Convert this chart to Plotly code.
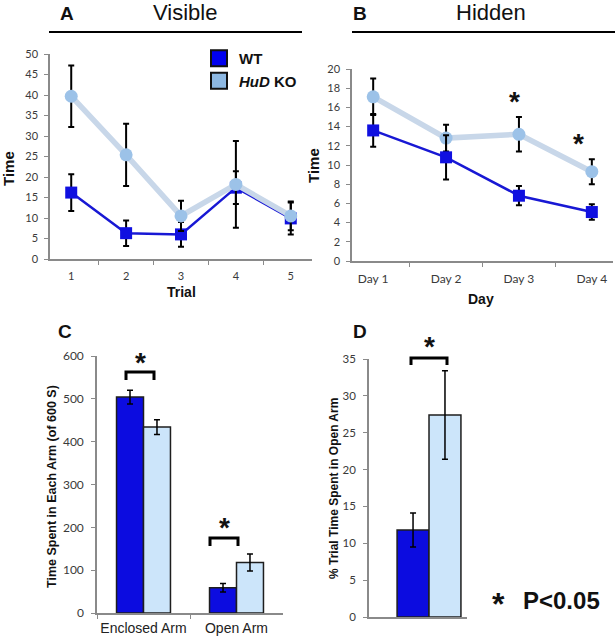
import plotly.graph_objects as go

# ---------------- data ----------------
trials = ["1", "2", "3", "4", "5"]
a_wt = [16.2, 6.3, 6.0, 17.4, 9.9]
a_wt_err = [4.5, 3.1, 3.0, 4.0, 3.9]
a_ko = [39.7, 25.4, 10.5, 18.2, 10.5]
a_ko_err = [7.5, 7.6, 3.7, 10.6, 3.5]

days = ["Day 1", "Day 2", "Day 3", "Day 4"]
b_wt = [13.6, 10.8, 6.8, 5.1]
b_wt_err = [1.7, 2.3, 1.0, 0.8]
b_ko = [17.1, 12.8, 13.2, 9.3]
b_ko_err = [1.9, 1.4, 1.8, 1.3]

arms = ["Enclosed Arm", "Open Arm"]
c_wt = [504, 59]
c_wt_err = [16, 10]
c_ko = [434, 118]
c_ko_err = [17, 20]

d_cat = ["Open Arm"]
d_wt = [11.8]
d_wt_err = [2.3]
d_ko = [27.4]
d_ko_err = [6.0]

group_names = ["WT", "<i>HuD</i> KO"]

# ---------------- style ----------------
W, H = 616, 639
WT_LINE = "#1818d4"
WT_MARK = "#1010e0"
KO_LINE = "#c8d7e9"
KO_MARK = "#9cc2e8"
WT_BAR = "#0c0ce0"
KO_BAR = "#cce5fa"
AX = "#8a8a8a"
TICKF = dict(family="Lato, Open Sans, sans-serif", size=11, color="#3a3a3a")
ARIAL = "Liberation Sans, Arial, sans-serif"


def px(x):
    return x / W


def py(y):
    return 1 - y / H


def err(arr, th=2):
    return dict(type="data", array=arr, color="black", thickness=th, width=3)


fig = go.Figure()

# Panel A
fig.add_trace(go.Scatter(x=trials, y=a_wt, error_y=err(a_wt_err), mode="lines+markers",
                         line=dict(color=WT_LINE, width=2.5),
                         marker=dict(symbol="square", size=12, color=WT_MARK),
                         xaxis="x", yaxis="y", showlegend=False))
fig.add_trace(go.Scatter(x=trials, y=a_ko, error_y=err(a_ko_err), mode="lines+markers",
                         line=dict(color=KO_LINE, width=5.5),
                         marker=dict(symbol="circle", size=13, color=KO_MARK),
                         xaxis="x", yaxis="y", showlegend=False))
# Panel B
fig.add_trace(go.Scatter(x=days, y=b_ko, error_y=err(b_ko_err), mode="lines+markers",
                         line=dict(color=KO_LINE, width=5.5),
                         marker=dict(symbol="circle", size=13, color=KO_MARK),
                         xaxis="x2", yaxis="y2", showlegend=False))
fig.add_trace(go.Scatter(x=days, y=b_wt, error_y=err(b_wt_err), mode="lines+markers",
                         line=dict(color=WT_LINE, width=2.5),
                         marker=dict(symbol="square", size=12, color=WT_MARK),
                         xaxis="x2", yaxis="y2", showlegend=False))
# Panel C
bar_line = dict(color="#1e1e1e", width=1.5)
fig.add_trace(go.Bar(x=arms, y=c_wt, error_y=err(c_wt_err, 1.5),
                     marker=dict(color=WT_BAR, line=bar_line), xaxis="x3", yaxis="y3", showlegend=False))
fig.add_trace(go.Bar(x=arms, y=c_ko, error_y=err(c_ko_err, 1.5),
                     marker=dict(color=KO_BAR, line=bar_line), xaxis="x3", yaxis="y3", showlegend=False))
# Panel D
fig.add_trace(go.Bar(x=d_cat, y=d_wt, error_y=err(d_wt_err, 1.5),
                     marker=dict(color=WT_BAR, line=bar_line), xaxis="x4", yaxis="y4", showlegend=False))
fig.add_trace(go.Bar(x=d_cat, y=d_ko, error_y=err(d_ko_err, 1.5),
                     marker=dict(color=KO_BAR, line=bar_line), xaxis="x4", yaxis="y4", showlegend=False))

# Legend entries
fig.add_trace(go.Scatter(x=[None], y=[None], mode="markers", name=group_names[0],
                         marker=dict(symbol="square", size=16, color="#0000ee", line=dict(color="#111", width=2)),
                         xaxis="x", yaxis="y"))
fig.add_trace(go.Scatter(x=[None], y=[None], mode="markers", name=group_names[1],
                         marker=dict(symbol="square", size=16, color="#8db8e2", line=dict(color="#111", width=2)),
                         xaxis="x", yaxis="y"))


def xax(domain, **kw):
    d = dict(domain=domain, showline=True, linecolor=AX, linewidth=1.5, ticks="outside",
             tickcolor=AX, ticklen=4, tickwidth=1, showgrid=False, zeroline=False,
             tickfont=TICKF, fixedrange=True, automargin=False, tickangle=0)
    d.update(kw)
    return d


def yax(domain, rng, dtick, anchor, **kw):
    d = dict(domain=domain, range=rng, dtick=dtick, showline=True, linecolor=AX, linewidth=1.5,
             ticks="outside", tickcolor=AX, ticklen=4, tickwidth=1, showgrid=False,
             zeroline=False, tickfont=TICKF, anchor=anchor, fixedrange=True, automargin=False)
    d.update(kw)
    return d


layout = dict(
    width=W, height=H, margin=dict(l=0, r=0, t=0, b=0, autoexpand=False),
    paper_bgcolor="white", plot_bgcolor="white",
    barmode="group", bargap=0.42, bargroupgap=0,
    xaxis=xax([px(50), px(312)], type="category", tickson="boundaries", anchor="y",
              ticklabelstandoff=6),
    yaxis=yax([py(259), py(54)], [0, 50], 5, "x", ticklabelstandoff=4),
    xaxis2=xax([px(352), px(613)], type="category", tickson="boundaries", anchor="y2",
               tickfont=dict(TICKF, size=12), ticklabelstandoff=6),
    yaxis2=yax([py(261), py(69)], [0, 20], 2, "x2", ticklabelstandoff=4),
    xaxis3=xax([px(97), px(283)], type="category", tickson="boundaries", anchor="y3",
               tickfont=dict(family=ARIAL, size=14, color="#222"), ticklabelstandoff=1),
    yaxis3=yax([py(613), py(356)], [0, 600], 100, "x3", tickfont=dict(TICKF, size=12),
               ticklabelstandoff=5),
    xaxis4=xax([px(369), px(467)], type="category", anchor="y4", range=[-0.545, 0.345],
               ticks="", showticklabels=False),
    yaxis4=yax([py(617), py(359)], [0, 35], 5, "x4", tickfont=dict(TICKF, size=11.5),
               ticklabelstandoff=5),
    legend=dict(x=px(199), y=py(42), xanchor="left", yanchor="top", bgcolor="rgba(0,0,0,0)",
                font=dict(family=ARIAL, size=15, color="#111", weight="bold"),
                itemclick=False, tracegroupgap=0),
    showlegend=True,
)
fig.update_layout(**layout)

ann = []


def text(x, y, s, size, bold=False, angle=0, family=ARIAL, color="#111"):
    ann.append(dict(x=px(x), y=py(y), xref="paper", yref="paper", text=s, showarrow=False,
                    textangle=angle, xanchor="center", yanchor="middle",
                    font=dict(family=family, size=size, color=color,
                              weight="bold" if bold else "normal")))


# panel headers
text(67, 14, "A", 19, bold=True)
text(185, 12, "Visible", 22)
text(360, 14, "B", 19, bold=True)
text(491, 12, "Hidden", 22)
text(65, 331, "C", 19, bold=True)
text(360, 331, "D", 19, bold=True)
# axis titles
text(8, 169, "Time", 15, bold=True, angle=-90)
text(181, 292, "Trial", 14, bold=True)
text(314, 166, "Time", 15, bold=True, angle=-90)
text(481, 299, "Day", 14, bold=True)
text(52, 487, "Time Spent in Each Arm (of 600 S)", 12.5, bold=True, angle=-90)
text(334, 489, "% Trial Time Spent in Open Arm", 12, bold=True, angle=-90)

# significance stars
SH = 2
for (x, y) in [(514, 100), (578, 141), (140, 360), (224, 525), (429, 344)]:
    text(x, y + SH, "*", 28, bold=True)
text(498, 602 + SH, "*", 32, bold=True)
text(561, 600, "P<0.05", 24, bold=True)

shapes = []
for (x0, x1) in [(49, 302), (352, 615)]:
    shapes.append(dict(type="line", xref="paper", yref="paper", x0=px(x0), x1=px(x1),
                       y0=py(32), y1=py(32), line=dict(color="black", width=2)))
for (x0, x1, yt, yb) in [(126, 154, 372, 380), (210, 238, 538, 546), (411, 447, 358, 365)]:
    shapes.append(dict(type="path", xref="paper", yref="paper",
                       path=f"M{px(x0)},{py(yb)} L{px(x0)},{py(yt)} L{px(x1)},{py(yt)} L{px(x1)},{py(yb)}",
                       line=dict(color="black", width=3)))

fig.update_layout(annotations=ann, shapes=shapes)
fig.write_html("out.html", config={"displayModeBar": False},
               post_script="document.body.style.margin='0';document.body.style.overflow='hidden';")
